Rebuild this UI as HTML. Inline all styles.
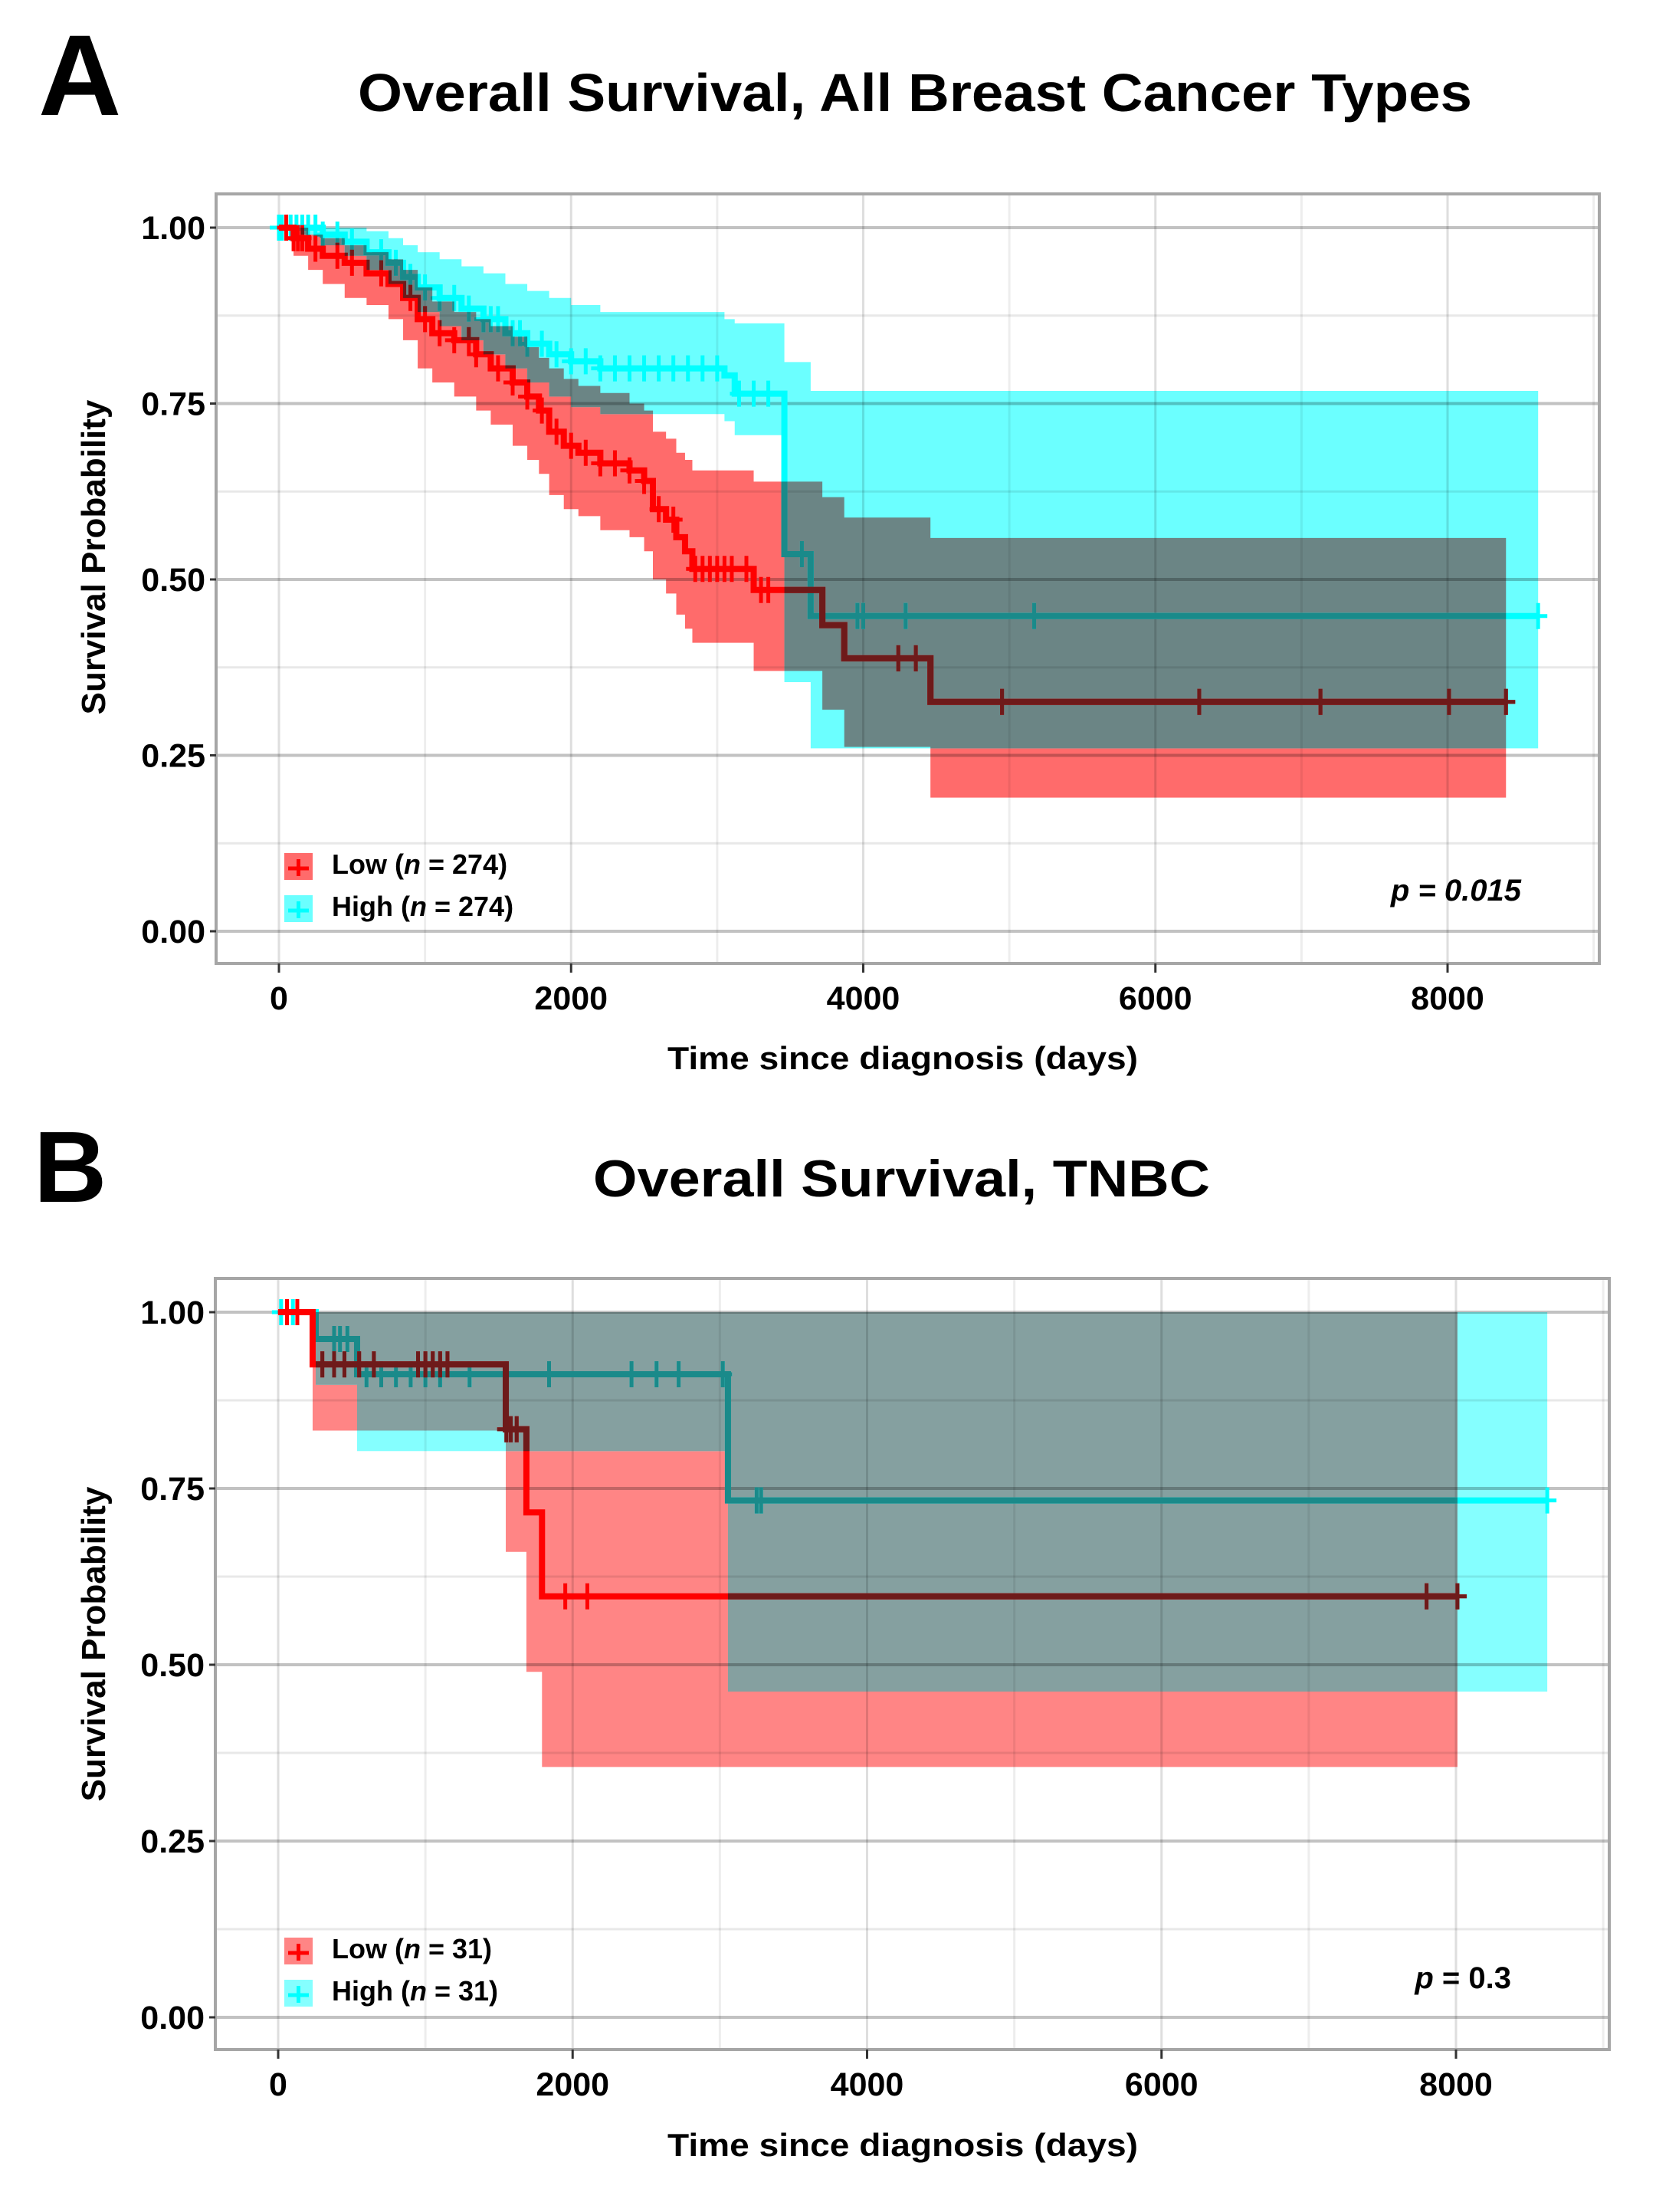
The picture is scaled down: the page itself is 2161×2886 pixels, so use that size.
<!DOCTYPE html>
<html><head><meta charset="utf-8"><title>Overall Survival KM</title>
<style>
html,body{margin:0;padding:0;background:#fff;}
svg{display:block;font-family:"Liberation Sans",Arial,sans-serif;}
</style></head>
<body>
<svg id="fig" xmlns="http://www.w3.org/2000/svg" width="2161" height="2886" viewBox="0 0 2161 2886">
<rect width="2161" height="2886" fill="#fff"/>
<text x="50" y="150" font-size="150" font-weight="bold">A</text>
<text x="467" y="145" font-size="70" font-weight="bold" textLength="1454" lengthAdjust="spacingAndGlyphs">Overall Survival, All Breast Cancer Types</text>
<text x="44" y="1568" font-size="132" font-weight="bold">B</text>
<text x="774" y="1561" font-size="68" font-weight="bold" textLength="805" lengthAdjust="spacingAndGlyphs">Overall Survival, TNBC</text>
<g id="panelA"></g>
<g id="panelB"></g>
</svg>
<script>
// ---------- Panel A data ----------
const aLowTime  = [0,100,200,300,450,600,750,850,950,1050,1200,1350,1450,1600,1700,1780,1850,1950,2050,2200,2400,2500,2560,2650,2720,2780,2830,3250,3720,3870,4460];
const aLowSurv  = [1,0.985,0.97,0.96,0.95,0.935,0.92,0.9,0.87,0.85,0.84,0.82,0.8,0.78,0.76,0.74,0.71,0.69,0.68,0.665,0.655,0.64,0.6,0.585,0.56,0.54,0.515,0.485,0.435,0.388,0.326];
const aLowLower = [1,0.96,0.94,0.92,0.9,0.89,0.87,0.84,0.8,0.78,0.76,0.74,0.72,0.69,0.67,0.65,0.62,0.6,0.59,0.57,0.56,0.54,0.5,0.48,0.45,0.43,0.41,0.37,0.315,0.262,0.19];
const aLowUpper = [1,1,0.99,0.985,0.975,0.965,0.955,0.94,0.915,0.895,0.88,0.87,0.86,0.845,0.83,0.815,0.8,0.785,0.775,0.765,0.75,0.74,0.71,0.7,0.68,0.67,0.655,0.639,0.617,0.588,0.559];
const aLowEnd = 8400;
const aLowCensor = [50,100,130,160,250,400,500,700,900,1000,1100,1200,1300,1350,1500,1600,1700,1800,1900,2000,2100,2200,2300,2400,2500,2600,2700,2850,2900,2950,3000,3050,3100,3200,3300,3350,4240,4360,4950,6300,7130,8010,8400];
const aHighTime  = [0,150,300,450,600,750,850,950,1100,1250,1400,1550,1700,1850,2000,2200,3050,3120,3460,3640];
const aHighSurv  = [1,1,0.99,0.98,0.965,0.95,0.93,0.915,0.9,0.885,0.87,0.85,0.835,0.82,0.81,0.8,0.79,0.764,0.536,0.448];
const aHighLower = [1,0.99,0.975,0.96,0.94,0.92,0.9,0.88,0.86,0.84,0.82,0.8,0.78,0.76,0.745,0.735,0.725,0.705,0.354,0.26];
const aHighUpper = [1,1,1,1,0.995,0.985,0.975,0.965,0.955,0.945,0.935,0.92,0.91,0.9,0.89,0.88,0.87,0.864,0.809,0.768];
const aHighEnd = 8620;
const aHighCensor = [0,20,50,80,120,160,200,250,300,400,500,700,800,900,1000,1100,1200,1300,1400,1450,1500,1600,1650,1700,1800,1900,2000,2100,2200,2300,2400,2500,2600,2700,2800,2900,3000,3150,3250,3350,3580,3960,4000,4290,5170,8620];
// ---------- Panel B data ----------
const bLowTime  = [0,234,1546,1686,1792];
const bLowSurv  = [1,0.926,0.834,0.716,0.597];
const bLowLower = [1,0.832,0.66,0.49,0.355];
const bLowUpper = [1,1,1,1,1];
const bLowEnd = 8010;
const bLowCensor = [60,130,300,380,450,550,650,950,1000,1050,1100,1150,1550,1580,1620,1950,2100,7800,8010];
const bHighTime  = [0,255,536,3055];
const bHighSurv  = [1,0.962,0.912,0.733];
const bHighLower = [1,0.897,0.803,0.462];
const bHighUpper = [1,1,1,1];
const bHighEnd = 8620;
const bHighCensor = [20,100,380,420,470,600,700,800,900,1000,1100,1300,1550,1840,2400,2570,2720,3020,3250,3280,8620];
const xTicks = [0,2000,4000,6000,8000];
const yTicks = [0,0.25,0.5,0.75,1.0];
const yTickLabels = ["0.00","0.25","0.50","0.75","1.00"];

const NS="http://www.w3.org/2000/svg";
function mk(tag,attrs,parent){const e=document.createElementNS(NS,tag);for(const k in attrs)e.setAttribute(k,attrs[k]);parent.appendChild(e);return e;}

function drawPanel(g,cfg){
  const x=t=>cfg.x0+(cfg.x8000-cfg.x0)*t/8000;
  const y=s=>cfg.y0-(cfg.y0-cfg.y1)*s;
  const id=cfg.id;
  let defs=mk('defs',{},g);
  let bg=mk('rect',{x:cfg.L,y:cfg.T,width:cfg.R-cfg.L,height:cfg.B-cfg.T,fill:'#fff'},g);
  
  
  function stepPath(T,S,E){let d='M'+x(T[0])+' '+y(S[0]);for(let i=1;i<T.length;i++){d+=' H'+x(T[i])+' V'+y(S[i]);}d+=' H'+x(E);return d;}
  function bandPath(T,U,Lo,E){let d='M'+x(T[0])+' '+y(U[0]);for(let i=1;i<T.length;i++){d+=' H'+x(T[i])+' V'+y(U[i]);}d+=' H'+x(E)+' V'+y(Lo[Lo.length-1]);for(let i=T.length-1;i>=1;i--){d+=' H'+x(T[i])+' V'+y(Lo[i-1]);}d+=' H'+x(T[0])+' Z';return d;}
  function survAt(T,S,t){let v=S[0];for(let i=0;i<T.length;i++){if(T[i]<=t)v=S[i];}return v;}
  const lowBand=bandPath(cfg.lowT,cfg.lowU,cfg.lowL,cfg.lowE);
  const highBand=bandPath(cfg.highT,cfg.highU,cfg.highL,cfg.highE);
  const cpL=mk('clipPath',{id:id+'clipLow'},defs); mk('path',{d:lowBand},cpL);
  const cpH=mk('clipPath',{id:id+'clipHigh'},defs); mk('path',{d:highBand},cpH);
  let p;
  p=mk('path',{d:lowBand,fill:cfg.lowFill},g);
  
  
  p=mk('path',{d:highBand,fill:cfg.highFill},g);
  
  
  p=mk('path',{d:highBand,fill:cfg.overlapFill,'clip-path':'url(#'+id+'clipLow)'},g);
  
  
  const grid=mk('g',{},g);
  
  
  for(let v=0;v<=1.0001;v+=0.125){const major=Math.abs(v*4-Math.round(v*4))<1e-6;mk('line',{x1:cfg.L,x2:cfg.R,y1:y(v),y2:y(v),stroke:major?'rgba(0,0,0,0.24)':'rgba(0,0,0,0.09)','stroke-width':major?4:3},grid);}
  for(let t=0;t<=9000;t+=1000){const xx=x(t);if(xx>cfg.R)break;const major=t%2000===0;mk('line',{x1:xx,x2:xx,y1:cfg.T,y2:cfg.B,stroke:major?'rgba(0,0,0,0.13)':'rgba(0,0,0,0.07)','stroke-width':3},grid);}
  const series=[
    {T:cfg.highT,S:cfg.highS,E:cfg.highE,C:cfg.highC,col:'#00ffff',dark:'#1a8a8a',clip:'clipLow',name:'high'},
    {T:cfg.lowT,S:cfg.lowS,E:cfg.lowE,C:cfg.lowC,col:'#ff0000',dark:'#6e1a1a',clip:'clipHigh',name:'low'}];
  series.forEach(sr=>{
    const sg=mk('g',{},g);
    
    
    const d=stepPath(sr.T,sr.S,sr.E);
    let cd='';
    sr.C.forEach(t=>{const cx=x(t),cy=y(survAt(sr.T,sr.S,t));cd+='M'+(cx-12)+' '+cy+' H'+(cx+12)+' M'+cx+' '+(cy-17)+' V'+(cy+17)+' ';});
    [[sr.col,null],[sr.dark,'url(#'+id+sr.clip+')']].forEach(([col,clip])=>{
      const a={d:d,fill:'none',stroke:col,'stroke-width':8,'stroke-linejoin':'miter'};
      if(clip)a['clip-path']=clip;
      mk('path',a,sg);
      const b={d:cd,fill:'none',stroke:col,'stroke-width':5};
      if(clip)b['clip-path']=clip;
      mk('path',b,sg);
    });
  });
  const br=mk('rect',{x:cfg.L,y:cfg.T,width:cfg.R-cfg.L,height:cfg.B-cfg.T,fill:'none',stroke:'#a6a6a6','stroke-width':4},g);
  
  
  const ya=mk('g',{},g);
  
  
  yTicks.forEach((v,i)=>{mk('line',{x1:cfg.L-8,x2:cfg.L,y1:y(v),y2:y(v),stroke:'#333','stroke-width':3},ya);
    const tx=mk('text',{x:cfg.L-14,y:y(v)+15,'font-size':43,'font-weight':'bold','text-anchor':'end'},ya);tx.textContent=yTickLabels[i];
    
    });
  const xa=mk('g',{},g);
  
  
  xTicks.forEach(t=>{mk('line',{x1:x(t),x2:x(t),y1:cfg.B,y2:cfg.B+12,stroke:'#333','stroke-width':3},xa);
    const tx=mk('text',{x:x(t),y:cfg.tickBase,'font-size':43,'font-weight':'bold','text-anchor':'middle'},xa);tx.textContent=String(t);
    
    });
  const xt=mk('text',{x:871,y:cfg.xTitleBase,'font-size':42,'font-weight':'bold',textLength:614,lengthAdjust:'spacingAndGlyphs'},g);
  xt.textContent='Time since diagnosis (days)';
  
  
  const yt=mk('text',{x:0,y:0,'font-size':44,'font-weight':'bold','text-anchor':'middle',transform:'translate(137,'+cfg.yTitleCenter+') rotate(-90)'},g);
  yt.textContent='Survival Probability';
  
  
  const lg=mk('g',{},g);
  
  
  [[cfg.legLowY,cfg.lowFill,'#ff0000','Low',cfg.n],[cfg.legLowY+55,cfg.highFill,'#00ffff','High',cfg.n]].forEach(([ly,f,c,lab,n])=>{
    const e=mk('g',{},lg);
    
    
    mk('rect',{x:371,y:ly,width:37,height:35,fill:f},e);
    mk('path',{d:'M376 '+(ly+20)+' H403 M389.5 '+(ly+8)+' V'+(ly+30),stroke:c,'stroke-width':5,fill:'none'},e);
    const t=mk('text',{x:433,y:ly+27,'font-size':36,'font-weight':'bold'},e);
    t.innerHTML=lab+' (<tspan font-style="italic">n</tspan> = '+n+')';
  });
  const pt=mk('text',{x:cfg.pX,y:cfg.pY,'font-size':40,'font-weight':'bold','text-anchor':'end'},g);
  pt.innerHTML=cfg.pHtml;
  
  
}

drawPanel(document.getElementById('panelA'),{id:'A',L:282,R:2087,T:253,B:1257,x0:364,x8000:1889,y1:297,y0:1215,
  lowT:aLowTime,lowS:aLowSurv,lowL:aLowLower,lowU:aLowUpper,lowE:aLowEnd,lowC:aLowCensor,
  highT:aHighTime,highS:aHighSurv,highL:aHighLower,highU:aHighUpper,highE:aHighEnd,highC:aHighCensor,
  lowFill:'#ff6b6b',highFill:'#6bffff',overlapFill:'#6b8585',tickBase:1317,xTitleBase:1395,yTitleCenter:727,
  legLowY:1113,n:274,pX:1985,pY:1175,pHtml:'<tspan font-style="italic">p = 0.015</tspan>'});
drawPanel(document.getElementById('panelB'),{id:'B',L:281,R:2100,T:1668,B:2674,x0:363,x8000:1900,y1:1712,y0:2632,
  lowT:bLowTime,lowS:bLowSurv,lowL:bLowLower,lowU:bLowUpper,lowE:bLowEnd,lowC:bLowCensor,
  highT:bHighTime,highS:bHighSurv,highL:bHighLower,highU:bHighUpper,highE:bHighEnd,highC:bHighCensor,
  lowFill:'#ff8585',highFill:'#85ffff',overlapFill:'#85a0a0',tickBase:2734,xTitleBase:2813,yTitleCenter:2145,
  legLowY:2528,n:31,pX:1972,pY:2594,pHtml:'<tspan font-style="italic">p</tspan> = 0.3'});
</script>
</body></html>
